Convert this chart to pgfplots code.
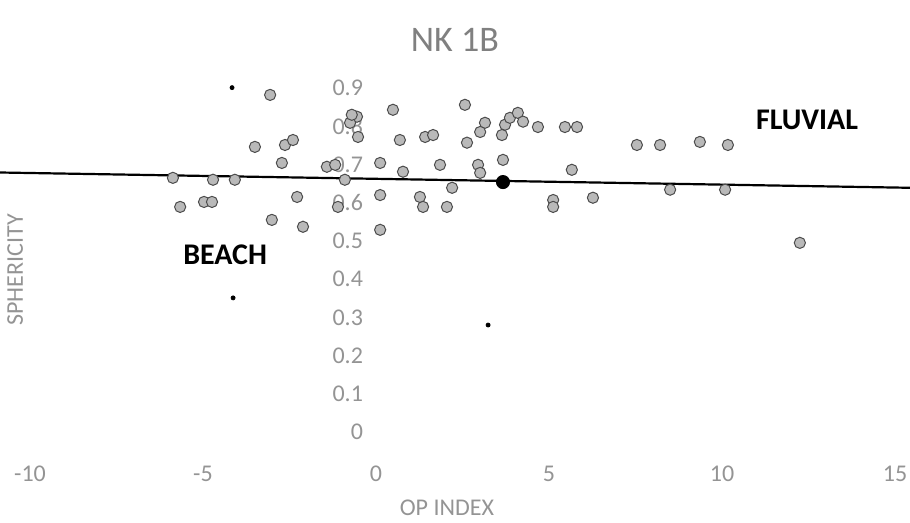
\documentclass[border=0pt]{standalone}
\usepackage{fontspec}
\setmainfont{Carlito}
\usepackage{pgfplots}
\pgfplotsset{compat=1.18}
\begin{document}
\begin{tikzpicture}
\path[use as bounding box] (-15pt,-34pt) rectangle (440pt,227.5pt);
\begin{axis}[
  scale only axis, width=432.5pt, height=183.5pt,
  xmin=-10, xmax=15, ymin=-0.06, ymax=0.9,
  axis x line=bottom, axis y line=middle,
  axis line style={draw=none},
  xtick={-10,-5,0,5,10,15},
  ytick={0,0.1,0.2,0.3,0.4,0.5,0.6,0.7,0.8,0.9},
  major tick length=0pt,
  tick label style={font=\fontsize{12}{14}\selectfont, text=black!42},
  /pgf/number format/assume math mode=true,
  yticklabel style={anchor=east, xshift=-3pt},
  xticklabel style={yshift=-2pt},
  clip=false,
]
\addplot[black, line width=1.1pt] coordinates {(-10.87,0.679) (15.43,0.639)};
\addplot[only marks, mark=*, mark size=2.8pt, mark options={fill=gray!55, draw=black!70, line width=0.5pt}] coordinates {
(-3.06,0.882) (-3.50,0.746) (-2.63,0.751) (-2.40,0.764) (-2.72,0.704)
(-5.87,0.665) (-4.71,0.660) (-4.08,0.660) (-5.66,0.589) (-4.97,0.602)
(-4.74,0.602) (-2.28,0.615) (-3.01,0.555) (-2.11,0.537) (-1.42,0.694)
(-1.18,0.699) (-0.90,0.660) (-1.10,0.589) (-0.55,0.825) (-0.75,0.809)
(-0.52,0.772) (-0.70,0.830) (0.49,0.843) (0.69,0.764) (1.42,0.772)
(0.12,0.704) (0.12,0.620) (0.12,0.529) (0.78,0.681) (1.27,0.615)
(1.36,0.589) (2.05,0.589) (2.20,0.639) (1.65,0.777) (1.85,0.699)
(2.57,0.856) (3.15,0.809) (3.01,0.785) (2.63,0.757) (2.95,0.699)
(3.01,0.678) (3.67,0.712) (3.73,0.804) (3.64,0.777) (3.87,0.822)
(4.10,0.835) (4.25,0.812) (4.68,0.798) (5.46,0.798) (5.81,0.798)
(5.66,0.686) (5.12,0.607) (5.12,0.589) (6.27,0.613) (7.54,0.751)
(8.21,0.751) (9.36,0.759) (10.17,0.751) (8.50,0.634) (10.09,0.634)
(12.25,0.495)
};
\addplot[only marks, mark=*, mark size=3.3pt, mark options={fill=black, draw=black}] coordinates {(3.67,0.654)};
\addplot[only marks, mark=*, mark size=1pt, mark options={fill=black, draw=black}] coordinates {(-4.16,0.901) (-4.13,0.351) (3.24,0.280)};
\node[font=\fontsize{18}{20}\selectfont, text=black!50] at (axis cs:2.28,1.026) {NK 1B};
\node[font=\fontsize{15}{17}\selectfont\bfseries] at (axis cs:12.46,0.817) {FLUVIAL};
\node[font=\fontsize{15}{17}\selectfont\bfseries] at (axis cs:-4.36,0.463) {BEACH};
\node[font=\fontsize{12}{14}\selectfont, text=black!42, rotate=90] at (axis cs:-10.43,0.424) {SPHERICITY};
\node[font=\fontsize{12}{14}\selectfont, text=black!42] at (axis cs:2.05,-0.199) {OP INDEX};
\end{axis}
\end{tikzpicture}
\end{document}
